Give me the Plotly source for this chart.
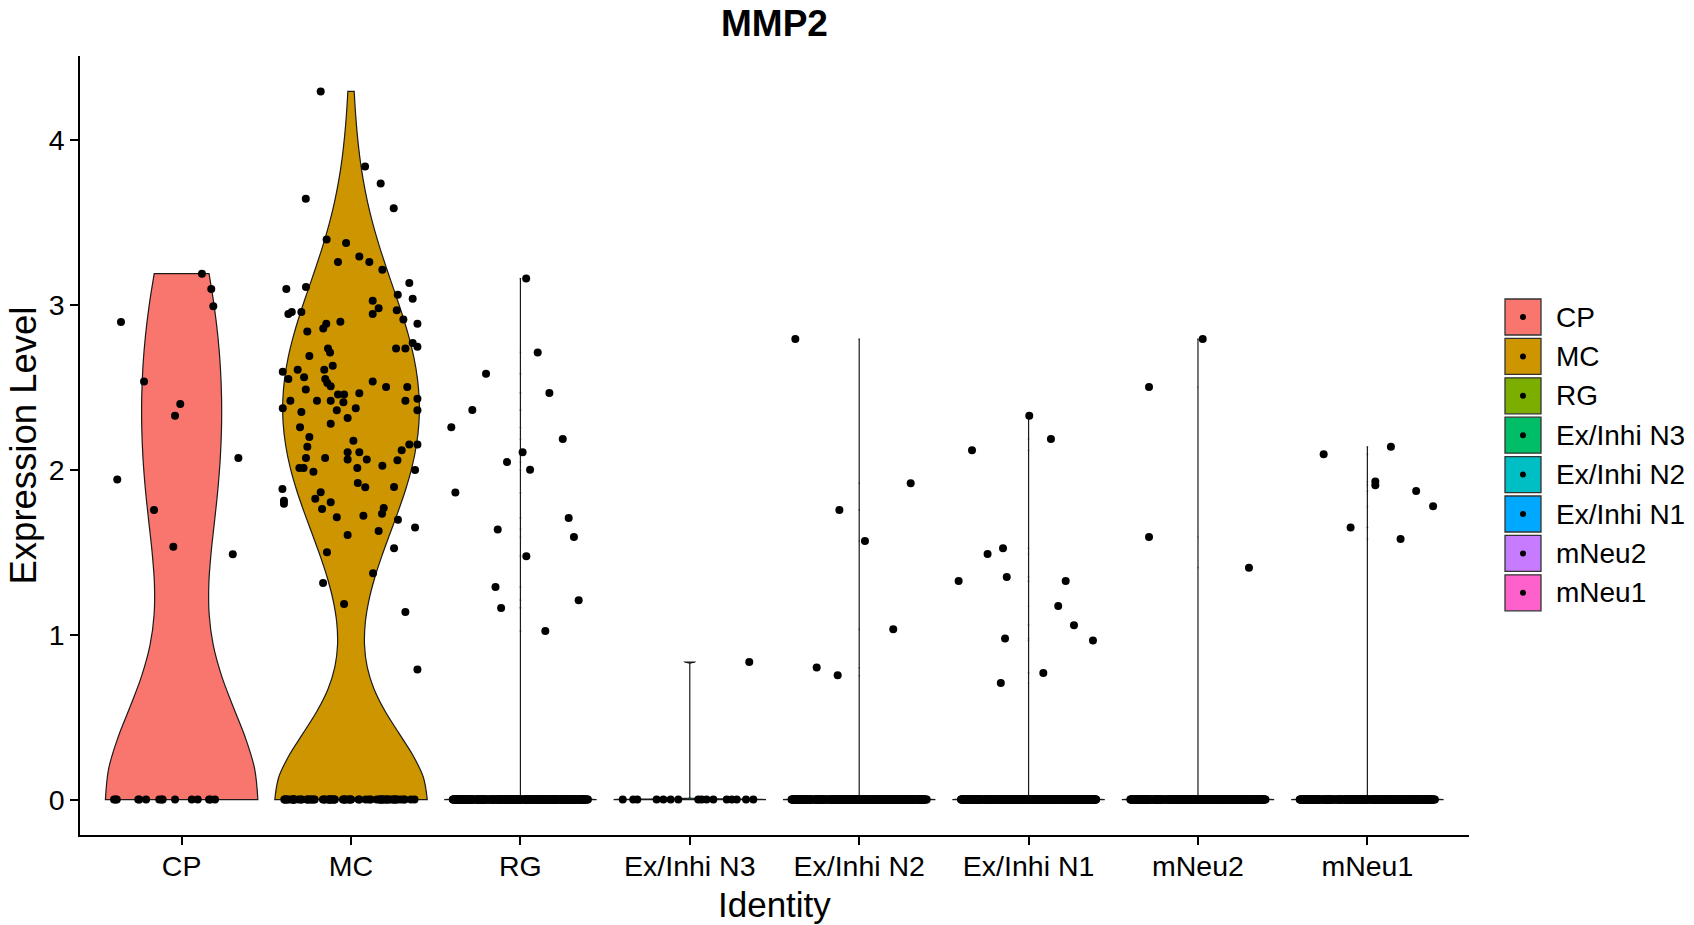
import numpy as np
import plotly.graph_objects as go

# ---------------- data ----------------
categories = ["CP", "MC", "RG", "Ex/Inhi N3", "Ex/Inhi N2", "Ex/Inhi N1", "mNeu2", "mNeu1"]
colors = ["#F8766D", "#CD9600", "#7CAE00", "#00BE67", "#00BFC4", "#00A9FF", "#C77CFF", "#FF61CC"]
y_ticks = [0, 1, 2, 3, 4]

# non-zero expression values and their horizontal jitter (category units)
cp_expr = [2.895, 3.188, 3.095, 2.990, 2.535, 2.398, 2.327, 2.071, 1.941, 1.756, 1.533, 1.487]
cp_jit = [-0.358, 0.120, 0.175, 0.187, -0.222, -0.008, -0.039, 0.335, -0.380, -0.163, -0.049, 0.302]

mc_expr = [4.293, 3.838, 3.735, 3.642, 3.584, 3.396, 3.374, 3.293, 3.259, 3.259, 3.212, 3.095,
           3.107, 3.131, 3.036, 3.061, 3.024, 2.978, 2.943, 2.966, 2.943, 2.956, 2.956, 2.911,
           2.885, 2.897, 2.885, 2.856, 2.838, 2.768, 2.745, 2.735, 2.735, 2.735, 2.711, 2.689,
           2.630, 2.594, 2.606, 2.606, 2.550, 2.560, 2.550, 2.525, 2.505, 2.535, 2.501, 2.501,
           2.486, 2.456, 2.456, 2.464, 2.430, 2.418, 2.418, 2.418, 2.408, 2.418, 2.372, 2.372,
           2.360, 2.350, 2.360, 2.313, 2.279, 2.257, 2.198, 2.176, 2.139, 2.152, 2.152, 2.117,
           2.105, 2.105, 2.071, 2.071, 2.061, 2.061, 2.057, 2.010, 2.010, 1.988, 2.010, 2.024,
           1.998, 1.883, 1.812, 1.794, 1.919, 1.893, 1.895, 1.863, 1.824, 1.802, 1.762, 1.767,
           1.733, 1.711, 1.721, 1.697, 1.650, 1.628, 1.604, 1.499, 1.523, 1.372, 1.313, 1.186,
           1.137, 0.788]
mc_jit = [-0.179, 0.083, 0.175, -0.267, 0.252, -0.144, -0.029, 0.049, -0.077, 0.108, 0.185, -0.382,
          -0.266, 0.344, 0.364, 0.276, 0.128, 0.163, 0.128, 0.270, -0.370, -0.350, -0.293, 0.309,
          0.392, -0.063, -0.146, -0.164, -0.258, 0.364, 0.392, 0.266, 0.321, -0.136, -0.124, -0.246,
          -0.108, -0.403, -0.315, -0.158, -0.370, -0.277, -0.152, -0.140, -0.120, 0.128, 0.207, 0.332,
          -0.267, -0.077, -0.041, 0.049, 0.392, -0.358, -0.201, -0.120, -0.045, 0.321, -0.403, 0.028,
          0.392, -0.293, -0.084, -0.020, -0.120, -0.301, -0.246, 0.014, -0.258, 0.344, 0.392, 0.299,
          -0.020, 0.049, -0.266, -0.153, -0.020, 0.093, 0.274, -0.305, -0.280, -0.222, 0.037, 0.185,
          0.378, -0.405, -0.396, -0.396, 0.040, 0.084, 0.254, -0.179, -0.211, -0.120, -0.171, 0.193,
          0.183, -0.084, 0.073, 0.277, 0.378, 0.163, -0.020, -0.142, 0.254, 0.130, -0.165, -0.041,
          0.321, 0.392]

rg_expr = [3.159, 2.711, 2.582, 2.465, 2.362, 2.257, 2.186, 2.105, 2.046, 2.000, 1.861, 1.707,
           1.638, 1.592, 1.475, 1.289, 1.208, 1.162, 1.022]
rg_jit = [0.034, 0.102, -0.203, 0.171, -0.284, -0.408, 0.250, 0.013, -0.079, 0.057, -0.384, 0.285,
          -0.134, 0.316, 0.035, -0.147, 0.344, -0.114, 0.147]

n3_expr = [0.834]
n3_jit = [0.351]

n2_expr = [2.792, 1.917, 1.756, 1.568, 1.032, 0.800, 0.753]
n2_jit = [-0.377, 0.304, -0.117, 0.034, 0.201, -0.251, -0.127]

n1_expr = [2.327, 2.186, 2.117, 1.523, 1.489, 1.349, 1.325, 1.325, 1.174, 1.057, 0.976, 0.964,
           0.768, 0.707]
n1_jit = [0.004, 0.132, -0.334, -0.151, -0.242, -0.129, -0.413, 0.219, 0.175, 0.268, -0.139, 0.380,
          0.087, -0.164]

mneu2_expr = [2.792, 2.501, 1.592, 1.406]
mneu2_jit = [0.028, -0.289, -0.289, 0.301]

mneu1_expr = [2.093, 2.139, 1.929, 1.906, 1.871, 1.778, 1.650, 1.579]
mneu1_jit = [-0.258, 0.139, 0.047, 0.047, 0.288, 0.388, -0.099, 0.196]

# number of cells with zero expression per identity
zero_counts = [15, 68, 350, 16, 400, 500, 450, 380]
# readable jitter positions of zero-valued cells where they are sparse
cp_zero_jit = [-0.399, -0.390, -0.383, -0.256, -0.250, -0.210, -0.132, -0.118, -0.112, -0.039,
               0.060, 0.095, 0.162, 0.170, 0.197]
n3_zero_jit = [-0.396, -0.334, -0.310, -0.196, -0.156, -0.113, -0.068, 0.050, 0.070, 0.099,
               0.139, 0.218, 0.248, 0.277, 0.332, 0.375]

expr = [cp_expr, mc_expr, rg_expr, n3_expr, n2_expr, n1_expr, mneu2_expr, mneu1_expr]
jit = [cp_jit, mc_jit, rg_jit, n3_jit, n2_jit, n1_jit, mneu2_jit, mneu1_jit]
zero_jit = {0: cp_zero_jit, 3: n3_zero_jit}

# ---------------- geometry (page body adds an 8px offset) ----------------
FONT = "Liberation Sans, Arial, sans-serif"
OFF = 8
W, H = 1694 - OFF, 925 - OFF
ML, MR, MT, MB = 80 - OFF, 0, 56 - OFF, 90
PW = W - ML - MR
PH = H - MT - MB
main_dom = (1469 - 80) / PW
PT = 8  # point size
TICK_FS = 28.5
LEG_FS = 28


def r_bandwidth(v):
    v = np.asarray(v, dtype=float)
    sd = v.std(ddof=1)
    q1, q3 = np.percentile(v, [25, 75])
    lo = min(sd, (q3 - q1) / 1.34)
    return max(0.9 * lo * len(v) ** -0.2, 0.003)


fig = go.Figure()

# violins
for i, cat in enumerate(categories):
    vals = [0.0] * zero_counts[i] + expr[i]
    fig.add_trace(go.Violin(
        x0=i, y=vals, name=cat, width=0.9, fillcolor=colors[i],
        line=dict(color="#1a1a1a", width=1.2), opacity=1,
        points=False, spanmode="hard", scalemode="width",
        bandwidth=r_bandwidth(vals), showlegend=False, hoverinfo="skip",
        box=dict(visible=False), meanline=dict(visible=False)))

# zero-valued points
for i, cat in enumerate(categories):
    if i in zero_jit:
        fig.add_trace(go.Scatter(
            x=[i + j for j in zero_jit[i]], y=[0.0] * len(zero_jit[i]), mode="markers",
            marker=dict(color="black", size=PT), showlegend=False, hoverinfo="skip"))
    else:
        fig.add_trace(go.Box(
            x0=i, y=[0.0] * zero_counts[i], width=0.8, boxpoints="all", jitter=1, pointpos=0,
            fillcolor="rgba(0,0,0,0)", line=dict(width=0, color="rgba(0,0,0,0)"), whiskerwidth=0,
            marker=dict(color="black", size=PT), showlegend=False, hoverinfo="skip"))

# non-zero points
for i, cat in enumerate(categories):
    fig.add_trace(go.Scatter(
        x=[i + j for j in jit[i]], y=expr[i], mode="markers",
        marker=dict(color="black", size=PT), showlegend=False, hoverinfo="skip"))

# legend (drawn on its own hidden axes)
x2_start = 1475 - OFF
leg_idx = list(range(len(categories)))
key_x = 1523 - x2_start - OFF
text_x = 1554 - x2_start - OFF
fig.add_trace(go.Scatter(
    x=[key_x] * len(categories), y=leg_idx, mode="markers", xaxis="x2", yaxis="y2",
    marker=dict(symbol="square", size=36, color=colors, line=dict(color="#333333", width=1.3)),
    showlegend=False, hoverinfo="skip"))
fig.add_trace(go.Scatter(
    x=[key_x] * len(categories), y=leg_idx, mode="markers", xaxis="x2", yaxis="y2",
    marker=dict(size=6, color="black"), showlegend=False, hoverinfo="skip"))

annotations = []
for i, cat in enumerate(categories):
    annotations.append(dict(x=text_x, y=i, xref="x2", yref="y2", text=cat, showarrow=False,
                            xanchor="left", yanchor="middle",
                            font=dict(family=FONT, size=LEG_FS, color="black")))
annotations.append(dict(x=(23 - 80) / PW, y=0.5, xref="paper", yref="paper",
                        text="Expression Level", textangle=-90, showarrow=False,
                        xanchor="center", yanchor="middle",
                        font=dict(family=FONT, size=36.5, color="black")))
annotations.append(dict(x=(774.5 - 80) / PW, y=(835 - 904) / PH, xref="paper", yref="paper",
                        text="Identity", showarrow=False, xanchor="center", yanchor="middle",
                        font=dict(family=FONT, size=35, color="black")))

pitch = 39.4
top_off = (317 - 56) / pitch
y2_range = [PH / pitch - top_off, -top_off]

fig.update_layout(
    width=W, height=H,
    margin=dict(l=ML, r=MR, t=MT, b=MB, autoexpand=False),
    paper_bgcolor="white", plot_bgcolor="white",
    violinmode="overlay", boxmode="overlay", violingap=0, boxgap=0,
    title=dict(text="MMP2", x=(774.5 - 80) / PW, xref="paper", xanchor="center",
               y=1 - (23 - OFF) / H, yref="container", yanchor="middle",
               font=dict(family=FONT, size=37, color="black", weight="bold")),
    xaxis=dict(domain=[0, main_dom], type="linear", range=[-0.6, len(categories) - 0.4],
               tickvals=list(range(len(categories))), ticktext=categories,
               showline=True, linecolor="black", linewidth=1.5, mirror=False,
               ticks="outside", ticklen=8, tickwidth=1.5, tickcolor="black",
               ticklabelstandoff=-3,
               showgrid=False, zeroline=False,
               tickfont=dict(family=FONT, size=TICK_FS, color="black")),
    yaxis=dict(range=[-0.2147, 4.5077], tickvals=y_ticks,
               showline=True, linecolor="black", linewidth=1.5, mirror=False,
               ticks="outside", ticklen=8, tickwidth=1.5, tickcolor="black",
               showgrid=False, zeroline=False,
               tickfont=dict(family=FONT, size=TICK_FS, color="black")),
    xaxis2=dict(domain=[(1475 - 80) / PW, 1.0], range=[0, W - x2_start], visible=False,
                anchor="y2", fixedrange=True),
    yaxis2=dict(domain=[0, 1], range=y2_range, visible=False, anchor="x2", fixedrange=True),
    annotations=annotations,
    showlegend=False,
)

fig.write_html("out.html")
